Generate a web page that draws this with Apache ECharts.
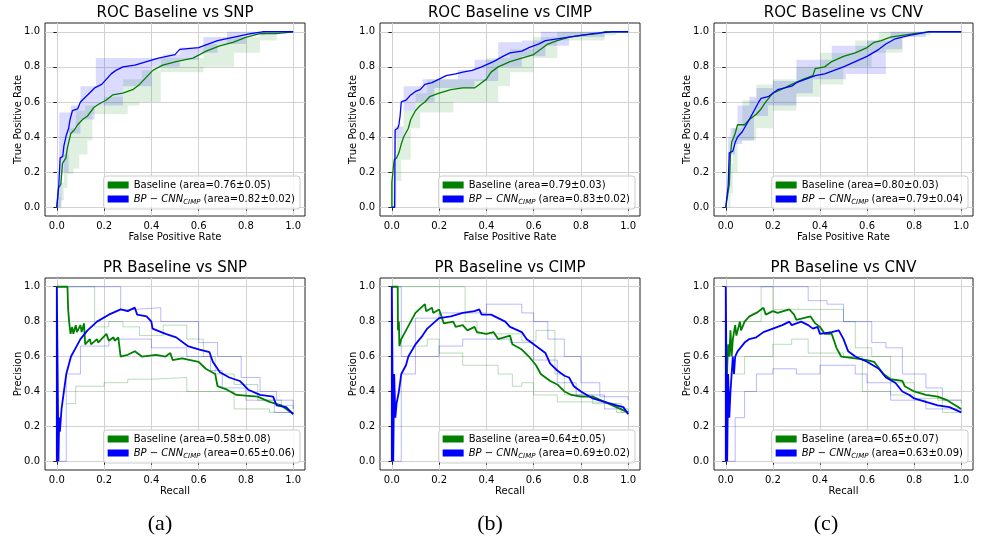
<!DOCTYPE html>
<html>
<head>
<meta charset="utf-8">
<title>ROC / PR Baseline vs BP-CNN</title>
<script src="https://cdn.jsdelivr.net/npm/echarts@6.0.0/dist/echarts.min.js"></script>
<style>
html, body { margin: 0; padding: 0; background: #fff; }
#chart { width: 990px; height: 547px; }
</style>
</head>
<body>
<div id="chart"></div>
<script>
// tick labels shared by every axis
const tickVals = [0, 0.2, 0.4, 0.6, 0.8, 1];

// ---- ROC: mean curves [fpr, tpr] ----
const rocSnpBase = [[0,0],[0.007,0.11],[0.017,0.13],[0.024,0.25],[0.038,0.28],[0.045,0.34],[0.052,0.38],[0.059,0.42],[0.074,0.44],[0.088,0.47],[0.109,0.5],[0.13,0.52],[0.158,0.57],[0.18,0.59],[0.208,0.61],[0.236,0.64],[0.279,0.65],[0.321,0.67],[0.35,0.7],[0.378,0.74],[0.406,0.78],[0.448,0.81],[0.505,0.83],[0.576,0.85],[0.632,0.89],[0.689,0.92],[0.745,0.94],[0.802,0.97],[0.859,0.99],[0.929,0.99],[1,1]];
const rocSnpBp = [[0,0],[0.008,0.12],[0.014,0.28],[0.025,0.29],[0.03,0.35],[0.04,0.41],[0.05,0.45],[0.056,0.5],[0.066,0.55],[0.088,0.56],[0.1,0.6],[0.13,0.64],[0.16,0.68],[0.19,0.7],[0.21,0.73],[0.23,0.76],[0.25,0.78],[0.28,0.8],[0.33,0.81],[0.38,0.83],[0.43,0.85],[0.5,0.87],[0.52,0.9],[0.6,0.91],[0.64,0.93],[0.68,0.95],[0.75,0.97],[0.82,0.99],[0.87,1],[1,1]];
const rocCimpBase = [[0,0],[0,0.14],[0.01,0.27],[0.02,0.28],[0.03,0.31],[0.04,0.36],[0.05,0.4],[0.07,0.45],[0.08,0.5],[0.1,0.55],[0.12,0.58],[0.14,0.6],[0.16,0.63],[0.2,0.65],[0.25,0.67],[0.3,0.68],[0.35,0.68],[0.37,0.7],[0.4,0.73],[0.42,0.77],[0.45,0.8],[0.5,0.83],[0.55,0.85],[0.6,0.87],[0.63,0.9],[0.66,0.93],[0.7,0.95],[0.75,0.97],[0.8,0.98],[0.87,0.99],[0.9,1],[1,1]];
const rocCimpBp = [[0,0],[0.012,0],[0.014,0.44],[0.025,0.45],[0.03,0.47],[0.035,0.52],[0.04,0.6],[0.06,0.61],[0.08,0.64],[0.1,0.66],[0.12,0.67],[0.14,0.7],[0.17,0.71],[0.2,0.73],[0.23,0.75],[0.27,0.76],[0.3,0.77],[0.34,0.78],[0.38,0.8],[0.43,0.83],[0.47,0.86],[0.5,0.88],[0.55,0.89],[0.58,0.91],[0.62,0.93],[0.65,0.95],[0.7,0.96],[0.75,0.97],[0.8,0.98],[0.85,0.99],[0.93,1],[1,1]];
const rocCnvBase = [[0,0],[0.015,0.13],[0.02,0.3],[0.025,0.37],[0.04,0.42],[0.05,0.47],[0.08,0.47],[0.1,0.5],[0.13,0.53],[0.15,0.56],[0.17,0.6],[0.2,0.65],[0.25,0.68],[0.28,0.7],[0.33,0.73],[0.37,0.75],[0.38,0.79],[0.42,0.8],[0.45,0.83],[0.5,0.86],[0.55,0.88],[0.6,0.91],[0.63,0.94],[0.66,0.95],[0.7,0.97],[0.75,0.98],[0.8,0.99],[0.86,1],[1,1]];
const rocCnvBp = [[0,0],[0.01,0.12],[0.015,0.31],[0.03,0.32],[0.04,0.37],[0.05,0.4],[0.07,0.43],[0.1,0.5],[0.12,0.55],[0.14,0.6],[0.15,0.62],[0.18,0.63],[0.2,0.65],[0.22,0.67],[0.28,0.69],[0.3,0.71],[0.34,0.73],[0.38,0.75],[0.42,0.76],[0.46,0.78],[0.5,0.8],[0.55,0.83],[0.6,0.86],[0.65,0.9],[0.68,0.93],[0.72,0.96],[0.78,0.98],[0.82,0.99],[0.86,1],[1,1]];

// ---- ROC: std bands, step values [fpr, tpr] ----
const rocSnpBaseHi = [[0,0.06],[0.017,0.14],[0.03,0.3],[0.05,0.45],[0.08,0.55],[0.12,0.58],[0.2,0.63],[0.28,0.73],[0.36,0.78],[0.44,0.85],[0.62,0.93],[0.72,0.97],[0.86,1]];
const rocSnpBaseLo = [[0,0],[0.017,0.04],[0.03,0.11],[0.045,0.19],[0.07,0.22],[0.095,0.3],[0.13,0.38],[0.15,0.53],[0.3,0.58],[0.35,0.6],[0.44,0.77],[0.62,0.8],[0.75,0.88],[0.86,0.95],[0.93,1]];
const rocSnpBpHi = [[0,0.08],[0.01,0.54],[0.06,0.58],[0.1,0.69],[0.165,0.85],[0.45,0.87],[0.52,0.91],[0.62,0.97],[0.72,1]];
const rocSnpBpLo = [[0,0],[0.02,0.2],[0.05,0.42],[0.1,0.5],[0.16,0.58],[0.28,0.69],[0.4,0.8],[0.52,0.84],[0.6,0.88],[0.68,0.93],[0.8,0.98],[0.88,1]];
const rocCimpBaseHi = [[0,0.2],[0.015,0.3],[0.02,0.4],[0.05,0.55],[0.1,0.65],[0.15,0.73],[0.4,0.85],[0.5,0.9],[0.6,0.97],[0.7,1]];
const rocCimpBaseLo = [[0,0],[0.02,0.15],[0.04,0.27],[0.08,0.45],[0.12,0.54],[0.26,0.6],[0.45,0.69],[0.5,0.77],[0.6,0.85],[0.7,0.95],[0.9,0.98],[0.95,1]];
const rocCimpBpHi = [[0,0],[0.012,0.46],[0.05,0.69],[0.13,0.73],[0.28,0.78],[0.35,0.84],[0.45,0.94],[0.55,0.95],[0.63,1]];
const rocCimpBpLo = [[0,0],[0.015,0.4],[0.05,0.55],[0.1,0.6],[0.18,0.68],[0.35,0.72],[0.45,0.8],[0.55,0.86],[0.65,0.92],[0.75,0.97],[0.9,1]];
const rocCnvBaseHi = [[0,0],[0.01,0.25],[0.03,0.45],[0.07,0.61],[0.13,0.7],[0.2,0.73],[0.3,0.8],[0.4,0.88],[0.55,0.95],[0.65,1]];
const rocCnvBaseLo = [[0,0],[0.02,0.08],[0.03,0.2],[0.05,0.38],[0.13,0.45],[0.2,0.55],[0.3,0.63],[0.4,0.7],[0.5,0.8],[0.62,0.88],[0.75,0.98],[0.87,1]];
const rocCnvBpHi = [[0,0],[0.01,0.4],[0.02,0.45],[0.05,0.58],[0.1,0.63],[0.13,0.68],[0.2,0.72],[0.3,0.84],[0.45,0.92],[0.6,0.95],[0.7,1]];
const rocCnvBpLo = [[0,0],[0.01,0.12],[0.02,0.3],[0.04,0.36],[0.07,0.38],[0.12,0.52],[0.18,0.58],[0.3,0.65],[0.37,0.73],[0.51,0.76],[0.68,0.9],[0.75,0.97],[0.85,1]];

// ---- PR: mean curves [recall, precision] ----
const prSnpBase = [[0,1],[0.045,1],[0.048,0.87],[0.052,0.8],[0.058,0.73],[0.065,0.77],[0.07,0.73],[0.08,0.78],[0.085,0.74],[0.1,0.78],[0.105,0.74],[0.115,0.79],[0.12,0.67],[0.14,0.7],[0.145,0.67],[0.17,0.7],[0.175,0.68],[0.21,0.73],[0.22,0.69],[0.24,0.71],[0.245,0.69],[0.26,0.71],[0.27,0.6],[0.3,0.61],[0.33,0.63],[0.36,0.6],[0.42,0.61],[0.46,0.6],[0.48,0.62],[0.49,0.58],[0.53,0.59],[0.6,0.57],[0.63,0.53],[0.67,0.5],[0.68,0.43],[0.72,0.41],[0.76,0.38],[0.85,0.37],[0.9,0.34],[0.95,0.32],[1,0.27]];
const prSnpBp = [[0,0],[0,1],[0.005,1],[0.007,0],[0.01,0.25],[0.013,0.17],[0.02,0.3],[0.03,0.4],[0.04,0.5],[0.05,0.55],[0.06,0.6],[0.08,0.65],[0.1,0.7],[0.13,0.75],[0.17,0.8],[0.22,0.84],[0.27,0.87],[0.3,0.86],[0.33,0.88],[0.34,0.84],[0.38,0.83],[0.4,0.8],[0.405,0.76],[0.46,0.73],[0.505,0.71],[0.554,0.66],[0.604,0.64],[0.646,0.625],[0.66,0.57],[0.69,0.51],[0.73,0.48],[0.774,0.46],[0.81,0.41],[0.86,0.38],[0.915,0.37],[0.93,0.32],[0.97,0.31],[1,0.27]];
const prCimpBase = [[0,1],[0.025,1],[0.026,0.75],[0.03,0.8],[0.032,0.66],[0.04,0.7],[0.06,0.75],[0.08,0.8],[0.1,0.85],[0.14,0.9],[0.145,0.86],[0.17,0.88],[0.175,0.85],[0.2,0.87],[0.21,0.83],[0.22,0.79],[0.26,0.8],[0.27,0.77],[0.3,0.78],[0.32,0.75],[0.35,0.77],[0.36,0.74],[0.4,0.73],[0.43,0.74],[0.45,0.7],[0.5,0.72],[0.51,0.67],[0.55,0.64],[0.58,0.6],[0.61,0.55],[0.63,0.5],[0.67,0.46],[0.7,0.44],[0.73,0.4],[0.76,0.38],[0.8,0.37],[0.85,0.37],[0.9,0.34],[0.95,0.31],[1,0.28]];
const prCimpBp = [[0,0],[0,1],[0.004,1],[0.006,0],[0.01,0.5],[0.015,0.25],[0.02,0.33],[0.03,0.4],[0.04,0.5],[0.06,0.55],[0.07,0.6],[0.1,0.67],[0.13,0.72],[0.15,0.76],[0.2,0.82],[0.25,0.83],[0.3,0.85],[0.35,0.86],[0.37,0.87],[0.38,0.84],[0.42,0.84],[0.45,0.82],[0.48,0.8],[0.5,0.77],[0.55,0.74],[0.57,0.7],[0.6,0.67],[0.63,0.64],[0.65,0.62],[0.67,0.56],[0.7,0.52],[0.73,0.49],[0.75,0.48],[0.77,0.43],[0.8,0.4],[0.85,0.36],[0.9,0.34],[0.95,0.32],[0.98,0.31],[1,0.27]];
const prCnvBase = [[0.005,0.5],[0.01,0.67],[0.015,0.6],[0.02,0.75],[0.025,0.6],[0.03,0.7],[0.04,0.78],[0.045,0.72],[0.06,0.8],[0.065,0.75],[0.08,0.8],[0.1,0.83],[0.13,0.85],[0.16,0.88],[0.17,0.84],[0.2,0.86],[0.22,0.85],[0.27,0.87],[0.29,0.84],[0.3,0.81],[0.33,0.82],[0.36,0.83],[0.38,0.79],[0.4,0.77],[0.42,0.73],[0.45,0.73],[0.47,0.65],[0.49,0.6],[0.55,0.59],[0.6,0.58],[0.63,0.57],[0.67,0.5],[0.7,0.47],[0.75,0.46],[0.76,0.43],[0.8,0.4],[0.85,0.38],[0.9,0.37],[0.94,0.35],[1,0.3]];
const prCnvBp = [[0,0],[0,1],[0.004,1],[0.006,0],[0.01,0.5],[0.015,0.25],[0.02,0.4],[0.03,0.6],[0.035,0.5],[0.04,0.6],[0.05,0.63],[0.08,0.68],[0.1,0.7],[0.13,0.71],[0.16,0.74],[0.2,0.76],[0.24,0.78],[0.27,0.8],[0.28,0.78],[0.32,0.8],[0.35,0.78],[0.37,0.76],[0.39,0.77],[0.4,0.73],[0.45,0.74],[0.48,0.75],[0.5,0.7],[0.52,0.63],[0.55,0.6],[0.6,0.57],[0.65,0.53],[0.68,0.48],[0.72,0.45],[0.75,0.4],[0.78,0.38],[0.8,0.36],[0.85,0.34],[0.9,0.32],[0.95,0.31],[1,0.28]];

// ---- PR: upper / lower curves, step values ----
const prSnpBaseHi = [[0,1],[0.16,0.77],[0.22,0.8],[0.28,0.77],[0.35,0.72],[0.45,0.78],[0.55,0.7],[0.62,0.6],[0.67,0.5],[0.75,0.44],[0.85,0.35],[0.95,0.32],[1,0.3]];
const prSnpBaseLo = [[0.04,0.33],[0.08,0.43],[0.2,0.45],[0.3,0.47],[0.4,0.48],[0.55,0.4],[0.75,0.3],[0.9,0.28],[1,0.27]];
const prSnpBpHi = [[0,1],[0.27,0.87],[0.33,0.88],[0.44,0.8],[0.52,0.8],[0.6,0.68],[0.68,0.6],[0.78,0.48],[0.86,0.4],[0.93,0.35],[1,0.3]];
const prSnpBpLo = [[0,0],[0.04,0.5],[0.1,0.66],[0.22,0.7],[0.4,0.65],[0.55,0.6],[0.65,0.52],[0.7,0.42],[0.8,0.35],[0.92,0.28],[1,0.27]];
const prCimpBaseHi = [[0,1],[0.31,0.8],[0.36,0.73],[0.55,0.69],[0.61,0.75],[0.69,0.5],[0.73,0.38],[0.85,0.33],[0.97,0.28],[1,0.28]];
const prCimpBaseLo = [[0.03,0.66],[0.15,0.7],[0.2,0.62],[0.3,0.55],[0.45,0.5],[0.51,0.43],[0.55,0.45],[0.6,0.38],[0.7,0.34],[0.85,0.33],[0.95,0.28],[1,0.28]];
const prCimpBpHi = [[0,1],[0.04,0.6],[0.1,0.82],[0.2,0.85],[0.4,0.9],[0.55,0.85],[0.6,0.8],[0.66,0.7],[0.73,0.6],[0.8,0.45],[0.88,0.37],[1,0.35]];
const prCimpBpLo = [[0,0],[0.04,0.5],[0.1,0.6],[0.2,0.66],[0.3,0.7],[0.5,0.68],[0.6,0.58],[0.7,0.45],[0.78,0.38],[0.9,0.3],[1,0.27]];
const prCnvBaseHi = [[0.02,0.8],[0.15,1],[0.2,0.87],[0.35,0.87],[0.5,0.8],[0.55,0.65],[0.62,0.6],[0.7,0.45],[0.8,0.4],[0.9,0.35],[1,0.33]];
const prCnvBaseLo = [[0.02,0.5],[0.08,0.6],[0.2,0.67],[0.28,0.7],[0.35,0.62],[0.5,0.6],[0.58,0.4],[0.7,0.38],[0.8,0.36],[0.92,0.28],[1,0.28]];
const prCnvBpHi = [[0,1],[0.35,0.92],[0.43,0.9],[0.5,0.8],[0.62,0.68],[0.68,0.65],[0.75,0.5],[0.85,0.42],[0.92,0.35],[1,0.35]];
const prCnvBpLo = [[0,0],[0.04,0.25],[0.08,0.4],[0.13,0.5],[0.2,0.53],[0.3,0.5],[0.4,0.55],[0.55,0.5],[0.6,0.45],[0.7,0.35],[0.85,0.3],[1,0.28]];

// legend areas [baseline, bp-cnn] per panel
const rocAreas = [['0.76±0.05', '0.82±0.02'], ['0.79±0.03', '0.83±0.02'], ['0.80±0.03', '0.79±0.04']];
const prAreas = [['0.58±0.08', '0.65±0.06'], ['0.64±0.05', '0.69±0.02'], ['0.65±0.07', '0.63±0.09']];
const targets = ['SNP', 'CIMP', 'CNV'];
const captions = ['(a)', '(b)', '(c)'];

const fontFamily = 'DejaVu Sans';
const green = '#008000';
const blue = '#0000ff';

// layout in px
const colLeft = [45, 380, 714];
const colWidth = [260, 260, 259];
const rowTop = [23, 278];
const rowHeight = [193, 192];

const panels = [
  { kind: 'roc', base: rocSnpBase, bp: rocSnpBp, baseHi: rocSnpBaseHi, baseLo: rocSnpBaseLo, bpHi: rocSnpBpHi, bpLo: rocSnpBpLo },
  { kind: 'roc', base: rocCimpBase, bp: rocCimpBp, baseHi: rocCimpBaseHi, baseLo: rocCimpBaseLo, bpHi: rocCimpBpHi, bpLo: rocCimpBpLo },
  { kind: 'roc', base: rocCnvBase, bp: rocCnvBp, baseHi: rocCnvBaseHi, baseLo: rocCnvBaseLo, bpHi: rocCnvBpHi, bpLo: rocCnvBpLo },
  { kind: 'pr', base: prSnpBase, bp: prSnpBp, baseHi: prSnpBaseHi, baseLo: prSnpBaseLo, bpHi: prSnpBpHi, bpLo: prSnpBpLo },
  { kind: 'pr', base: prCimpBase, bp: prCimpBp, baseHi: prCimpBaseHi, baseLo: prCimpBaseLo, bpHi: prCimpBpHi, bpLo: prCimpBpLo },
  { kind: 'pr', base: prCnvBase, bp: prCnvBp, baseHi: prCnvBaseHi, baseLo: prCnvBaseLo, bpHi: prCnvBpHi, bpLo: prCnvBpLo }
];

// step polygon helper (post-step), runs to x=1
function stepPts(arr) {
  const out = [];
  for (let k = 0; k < arr.length; k++) {
    out.push(arr[k]);
    if (k + 1 < arr.length) out.push([arr[k + 1][0], arr[k][1]]);
  }
  const last = arr[arr.length - 1];
  if (last[0] < 1) out.push([1, last[1]]);
  return out;
}

function bandSeries(idx, hi, lo, color, alpha) {
  return {
    type: 'custom',
    xAxisIndex: idx,
    yAxisIndex: idx,
    silent: true,
    z: 1,
    data: [[0, 0]],
    renderItem: function (params, api) {
      const poly = stepPts(hi).concat(stepPts(lo).reverse()).map(function (p) {
        return api.coord(p);
      });
      return { type: 'polygon', shape: { points: poly }, style: { fill: color, opacity: alpha } };
    }
  };
}

function lineSeries(idx, name, data, color, width, opacity, step, z) {
  return {
    type: 'line',
    name: name,
    xAxisIndex: idx,
    yAxisIndex: idx,
    data: data,
    step: step,
    symbol: 'none',
    showSymbol: false,
    silent: true,
    color: color,
    itemStyle: { color: color },
    lineStyle: { color: color, width: width, opacity: opacity },
    z: z
  };
}

const grids = [], xAxes = [], yAxes = [], series = [], legends = [], titles = [];

panels.forEach(function (p, i) {
  const r = Math.floor(i / 3), c = i % 3;
  const isRoc = p.kind === 'roc';
  grids.push({
    left: colLeft[c], top: rowTop[r], width: colWidth[c], height: rowHeight[r],
    show: true, borderColor: '#222', borderWidth: 1, backgroundColor: 'rgba(0,0,0,0)',
    containLabel: false, outerBoundsMode: 'none'
  });
  const axisCommon = {
    gridIndex: i,
    type: 'value',
    min: -0.05,
    max: 1.05,
    axisLine: { show: false },
    axisTick: { show: true, length: 3.5, lineStyle: { color: '#222', width: 1 }, customValues: tickVals },
    axisLabel: {
      customValues: tickVals, color: '#000', fontSize: 10, fontFamily: fontFamily, margin: 5,
      formatter: function (v) { return v.toFixed(1); }
    },
    splitLine: { show: true, lineStyle: { color: '#d2d2d2', width: 1 } },
    nameLocation: 'middle',
    nameMoveOverlap: false,
    nameTextStyle: { color: '#000', fontSize: 10, fontFamily: fontFamily }
  };
  xAxes.push(Object.assign({}, axisCommon, { name: isRoc ? 'False Positive Rate' : 'Recall', nameGap: 16 }));
  yAxes.push(Object.assign({}, axisCommon, { name: isRoc ? 'True Positive Rate' : 'Precision', nameGap: 22 }));

  const baseName = 'Baseline-' + i, bpName = 'BP-' + i;
  if (isRoc) {
    series.push(bandSeries(i, p.baseHi, p.baseLo, green, 0.12));
    series.push(bandSeries(i, p.bpHi, p.bpLo, blue, 0.14));
    series.push(lineSeries(i, baseName, p.base, green, 1.3, 1, false, 3));
    series.push(lineSeries(i, bpName, p.bp, blue, 1.3, 1, false, 4));
  } else {
    series.push(lineSeries(i, 'bhi-' + i, p.baseHi, green, 1, 0.28, 'end', 2));
    series.push(lineSeries(i, 'blo-' + i, p.baseLo, green, 1, 0.28, 'end', 2));
    series.push(lineSeries(i, 'phi-' + i, p.bpHi, blue, 1, 0.28, 'end', 2));
    series.push(lineSeries(i, 'plo-' + i, p.bpLo, blue, 1, 0.28, 'end', 2));
    series.push(lineSeries(i, baseName, p.base, green, 1.8, 1, false, 3));
    series.push(lineSeries(i, bpName, p.bp, blue, 1.8, 1, false, 4));
  }

  const areas = isRoc ? rocAreas[c] : prAreas[c];
  legends.push({
    data: [baseName, bpName],
    orient: 'vertical',
    right: 990 - (colLeft[c] + colWidth[c]) + 5,
    bottom: 547 - (rowTop[r] + rowHeight[r]) + 7,
    icon: 'rect',
    itemWidth: 21,
    itemHeight: 7,
    itemGap: 4,
    padding: [4, 5, 3, 4],
    backgroundColor: 'rgba(255,255,255,0.8)',
    borderColor: '#cccccc',
    borderWidth: 1,
    borderRadius: 3,
    selectedMode: false,
    textStyle: {
      color: '#000', fontSize: 10, fontFamily: fontFamily,
      rich: {
        it: { fontStyle: 'italic', fontSize: 10, fontFamily: fontFamily, color: '#000' },
        sub: { fontStyle: 'italic', fontSize: 7, fontFamily: fontFamily, color: '#000', lineHeight: 14, verticalAlign: 'bottom' },
        tx: { fontSize: 10, fontFamily: fontFamily, color: '#000' }
      }
    },
    formatter: function (name) {
      if (name === baseName) return 'Baseline (area=' + areas[0] + ')';
      return '{it|BP − CNN}{sub|CIMP}{tx| (area=' + areas[1] + ')}';
    }
  });

  titles.push({
    text: (isRoc ? 'ROC' : 'PR') + ' Baseline vs ' + targets[c],
    left: colLeft[c] + colWidth[c] / 2,
    top: r === 0 ? 6 : 261,
    textAlign: 'center',
    padding: 0,
    textStyle: { color: '#000', fontSize: 15, fontWeight: 'normal', fontFamily: fontFamily }
  });
});

const capX = [160, 490, 826];
captions.forEach(function (t, c) {
  titles.push({
    text: t, left: capX[c], top: 513, textAlign: 'center', padding: 0,
    textStyle: { color: '#000', fontSize: 22, fontWeight: 'normal', fontFamily: 'Liberation Serif' }
  });
});

const chart = echarts.init(document.getElementById('chart'), null, { renderer: 'canvas' });
chart.setOption({
  animation: false,
  backgroundColor: '#fff',
  textStyle: { fontFamily: fontFamily },
  title: titles,
  legend: legends,
  grid: grids,
  xAxis: xAxes,
  yAxis: yAxes,
  series: series
});
</script>
</body>
</html>
